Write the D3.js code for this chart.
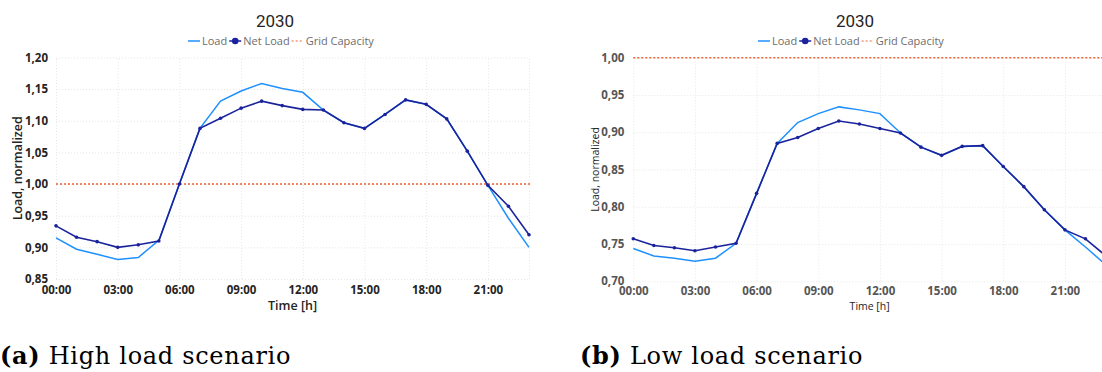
<!DOCTYPE html>
<html>
<head>
<meta charset="utf-8">
<script src="https://cdn.jsdelivr.net/npm/d3@7"></script>
<style>
  body { margin: 0; background: #fff; }
  svg { display: block; }
</style>
</head>
<body>
<div id="chart"></div>
<script>
// hours 0..23
const hours = d3.range(24);
const hourTicks = [0, 3, 6, 9, 12, 15, 18, 21];

// (a) high load scenario
const highLoad = [0.915, 0.897, 0.889, 0.881, 0.884, 0.911, 1.000, 1.088, 1.131, 1.147, 1.159, 1.151,
  1.145, 1.117, 1.097, 1.088, 1.110, 1.133, 1.126, 1.103, 1.052, 0.998, 0.946, 0.900];
const highNetLoad = [0.934, 0.916, 0.909, 0.900, 0.904, 0.910, 1.000, 1.088, 1.104, 1.120, 1.131, 1.124,
  1.118, 1.117, 1.097, 1.088, 1.110, 1.133, 1.126, 1.103, 1.052, 0.998, 0.965, 0.920];
const highTicks = [0.85, 0.90, 0.95, 1.00, 1.05, 1.10, 1.15, 1.20];

// (b) low load scenario
const lowLoad = [0.744, 0.734, 0.731, 0.727, 0.731, 0.751, 0.818, 0.885, 0.913, 0.925, 0.934, 0.930,
  0.925, 0.899, 0.880, 0.869, 0.881, 0.882, 0.854, 0.827, 0.796, 0.769, 0.746, 0.722];
const lowNetLoad = [0.757, 0.748, 0.745, 0.741, 0.746, 0.751, 0.818, 0.885, 0.893, 0.905, 0.915, 0.911,
  0.905, 0.899, 0.880, 0.869, 0.881, 0.882, 0.854, 0.827, 0.796, 0.769, 0.757, 0.734];
const lowTicks = [0.70, 0.75, 0.80, 0.85, 0.90, 0.95, 1.00];

const gridCapacity = 1.0;

const colors = { load: "#1E90FF", net: "#1A239C", grid: "#EB6235" };
const uiFont = "'Open Sans', 'Noto Sans', sans-serif";
const fmt = d => d3.format(".2f")(d).replace(".", ",");
const fmtHour = h => String(h).padStart(2, "0") + ":00";

const svg = d3.select("#chart").append("svg")
  .attr("width", 1102)
  .attr("height", 372);

function drawPanel(p) {
  const x = d3.scaleLinear().domain([0, 23]).range(p.xRange);
  const y = d3.scaleLinear().domain(d3.extent(p.ticks)).range(p.yRange);
  const g = svg.append("g");

  // grid
  g.append("g")
    .attr("transform", `translate(0,${p.yRange[0]})`)
    .call(d3.axisBottom(x).tickValues(hourTicks.concat([23])).tickSize(p.yRange[1] - p.yRange[0]).tickFormat(""))
    .call(a => a.select(".domain").remove())
    .selectAll("line")
    .attr("stroke", "#e6e6e6")
    .attr("stroke-dasharray", "1,2");

  g.append("g")
    .attr("transform", `translate(${p.xRange[0]},0)`)
    .call(d3.axisLeft(y).tickValues(p.ticks).tickSize(p.xRange[0] - p.xRange[1]).tickFormat(""))
    .call(a => a.select(".domain").remove())
    .selectAll("line")
    .attr("stroke", "#e6e6e6")
    .attr("stroke-dasharray", "1,2");

  // y tick labels
  g.append("g")
    .attr("transform", `translate(${p.xRange[0]},0)`)
    .call(d3.axisLeft(y).tickValues(p.ticks).tickSize(0).tickPadding(p.yPad).tickFormat(fmt))
    .call(a => a.select(".domain").remove())
    .selectAll("text")
    .attr("font-family", uiFont)
    .attr("font-size", 11.5)
    .attr("font-weight", 700)
    .attr("fill", p.tickColor);

  // x tick labels
  g.append("g")
    .attr("transform", `translate(0,${p.yRange[0]})`)
    .call(d3.axisBottom(x).tickValues(hourTicks).tickSize(0).tickPadding(p.xPad).tickFormat(fmtHour))
    .call(a => a.select(".domain").remove())
    .selectAll("text")
    .attr("font-family", uiFont)
    .attr("font-size", 11.5)
    .attr("font-weight", 700)
    .attr("fill", p.tickColor);

  // grid capacity
  g.append("line")
    .attr("x1", p.xRange[0]).attr("x2", p.xRange[1] + 2)
    .attr("y1", y(gridCapacity)).attr("y2", y(gridCapacity))
    .attr("stroke", colors.grid)
    .attr("stroke-width", 1.6)
    .attr("stroke-dasharray", "2,2");

  const line = d3.line().x((d, i) => x(hours[i])).y(d => y(d));

  g.append("path")
    .attr("d", line(p.load))
    .attr("fill", "none")
    .attr("stroke", colors.load)
    .attr("stroke-width", 1.5);

  g.append("path")
    .attr("d", line(p.net))
    .attr("fill", "none")
    .attr("stroke", colors.net)
    .attr("stroke-width", 1.6);

  g.selectAll(".dot")
    .data(p.net)
    .enter().append("circle")
    .attr("cx", (d, i) => x(hours[i]))
    .attr("cy", d => y(d))
    .attr("r", 1.8)
    .attr("fill", colors.net);

  // axis titles
  g.append("text")
    .attr("transform", `translate(${p.yTitleX},${(p.yRange[0] + p.yRange[1]) / 2}) rotate(-90)`)
    .attr("text-anchor", "middle")
    .attr("font-family", uiFont)
    .attr("font-size", p.titleSize)
    .attr("font-weight", p.titleWeight)
    .attr("fill", p.titleColor)
    .text("Load, normalized");

  g.append("text")
    .attr("x", (p.xRange[0] + p.xRange[1]) / 2)
    .attr("y", p.timeY)
    .attr("text-anchor", "middle")
    .attr("font-family", uiFont)
    .attr("font-size", p.titleSize)
    .attr("font-weight", p.titleWeight)
    .attr("fill", p.titleColor)
    .text("Time [h]");

  // title
  g.append("text")
    .attr("x", p.titleX)
    .attr("y", 27)
    .attr("text-anchor", "middle")
    .attr("font-family", "Roboto, sans-serif")
    .attr("font-size", 17)
    .attr("fill", "#252423")
    .text("2030");

  // legend
  const lg = g.append("g").attr("transform", `translate(${p.legendX},41)`);
  const lt = { "font-family": uiFont, "font-size": 11, fill: "#6f6d6b" };
  let cx = 0;
  lg.append("line").attr("x1", cx).attr("x2", cx + 12).attr("stroke", colors.load).attr("stroke-width", 1.5);
  cx += 14;
  const t1 = lg.append("text").attr("x", cx).attr("dy", "0.35em").text("Load");
  Object.entries(lt).forEach(([k, v]) => t1.attr(k, v));
  cx += t1.node().getComputedTextLength() + 2;
  lg.append("line").attr("x1", cx).attr("x2", cx + 12).attr("stroke", colors.net).attr("stroke-width", 1.5);
  lg.append("circle").attr("cx", cx + 6).attr("r", 3.3).attr("fill", colors.net);
  cx += 14;
  const t2 = lg.append("text").attr("x", cx).attr("dy", "0.35em").text("Net Load");
  Object.entries(lt).forEach(([k, v]) => t2.attr(k, v));
  cx += t2.node().getComputedTextLength() + 2;
  lg.append("line").attr("x1", cx).attr("x2", cx + 12).attr("stroke", colors.grid).attr("stroke-width", 1).attr("stroke-dasharray", "2,2");
  cx += 14;
  const t3 = lg.append("text").attr("x", cx).attr("dy", "0.35em").text("Grid Capacity");
  Object.entries(lt).forEach(([k, v]) => t3.attr(k, v));

  // caption
  const cap = g.append("text")
    .attr("x", p.capX)
    .attr("y", 364)
    .attr("font-family", "'DejaVu Serif', serif")
    .attr("font-size", 24)
    .attr("letter-spacing", 0.7)
    .attr("fill", "#000");
  cap.append("tspan").attr("font-weight", 700).text(p.capTag);
  cap.append("tspan").attr("font-weight", 300).text(" " + p.capText);
}

drawPanel({
  load: highLoad, net: highNetLoad, ticks: highTicks,
  xRange: [56, 529], yRange: [279, 57.5], yPad: 8, xPad: 7, timeY: 310,
  tickColor: "#252423", titleSize: 12.5, titleWeight: 600, titleColor: "#252423",
  yTitleX: 22, titleX: 275, legendX: 188,
  capX: 0, capTag: "(a)", capText: "High load scenario"
});

drawPanel({
  load: lowLoad, net: lowNetLoad, ticks: lowTicks,
  xRange: [633.3, 1106], yRange: [281.3, 57.7], yPad: 9, xPad: 6, timeY: 310,
  tickColor: "#555555", titleSize: 10.5, titleWeight: 400, titleColor: "#252423",
  yTitleX: 599, titleX: 855, legendX: 758,
  capX: 580, capTag: "(b)", capText: "Low load scenario"
});
</script>
</body>
</html>
